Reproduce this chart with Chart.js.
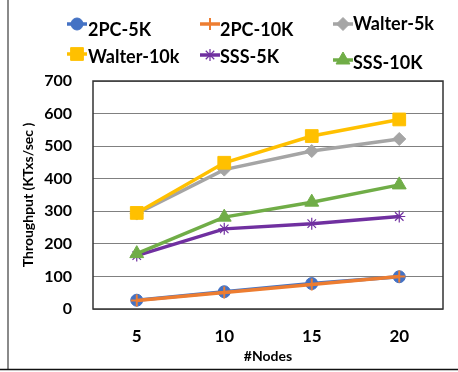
<!DOCTYPE html>
<html>
<head>
<meta charset="utf-8">
<script src="https://cdn.jsdelivr.net/npm/chart.js@4/dist/chart.umd.min.js"></script>
<style>
  html,body{margin:0;padding:0;background:#fff;}
  #wrap{width:458px;height:372px;}
</style>
</head>
<body>
<div id="wrap"><canvas id="c" width="458" height="372"></canvas></div>
<script>
// ---- data ----
const categories = ['5', '10', '15', '20'];
const yTickValues = [0, 100, 200, 300, 400, 500, 600, 700];
const seriesNames = ['2PC-5K', '2PC-10K', 'Walter-5k', 'Walter-10k', 'SSS-5K', 'SSS-10K'];
const pc5K = [27, 53, 78, 99];
const pc10K = [26, 51, 75, 100];
const walter5k = [293, 428, 485, 522];
const walter10k = [295, 449, 531, 582];
const sss5K = [164, 246, 262, 284];
const sss10K = [170, 282, 328, 381];
const xTitle = '#Nodes';
const yTitle = 'Throughput (KTxs/sec )';

// ---- styles ----
const FONT = 'Lato, "Open Sans", sans-serif';
const styles = [
  {color: '#4472C4', pointStyle: 'circle', radius: 6, lw: 3.5},
  {color: '#ED7D31', pointStyle: 'cross', radius: 6, lw: 3.5, pbw: 2},
  {color: '#A5A5A5', pointStyle: 'rectRot', radius: 6.5, lw: 3.5},
  {color: '#FFC000', pointStyle: 'rect', radius: 9, lw: 3.5},
  {color: '#7030A0', pointStyle: 'star', radius: 6, lw: 3.5, pbw: 1.2},
  {color: '#70AD47', pointStyle: 'triangle', radius: 8, lw: 3.5}
];
const values = [pc5K, pc10K, walter5k, walter10k, sss5K, sss10K];

// legend layout: [markerStartX, markerY, textX, textCenterY]
const legendLayout = [
  [67, 24, 88, 30],
  [200, 24, 220, 30],
  [333, 24, 353, 24],
  [67, 54, 88, 57],
  [200, 55, 220, 57],
  [333, 60, 353, 63]
];

const datasets = values.map((v, i) => ({
  label: seriesNames[i],
  data: v,
  borderColor: styles[i].color,
  backgroundColor: styles[i].color,
  borderWidth: styles[i].lw,
  pointStyle: styles[i].pointStyle,
  pointRadius: styles[i].radius,
  pointBorderWidth: styles[i].pbw || 1,
  pointBorderColor: styles[i].color,
  pointBackgroundColor: styles[i].color,
  tension: 0,
  fill: false,
  order: values.length - i
}));

function drawMarker(ctx, st, x, y) {
  const H = Chart.helpers;
  ctx.save();
  ctx.fillStyle = st.color;
  ctx.strokeStyle = st.color;
  ctx.lineWidth = st.pbw || 1;
  if (H && H.drawPoint) {
    H.drawPoint(ctx, {pointStyle: st.pointStyle, radius: st.radius, rotation: 0, borderWidth: st.pbw || 1}, x, y);
  }
  ctx.restore();
}

const framePlugin = {
  id: 'frame',
  beforeDraw(chart) {
    const ctx = chart.ctx;
    ctx.save();
    ctx.fillStyle = '#fff';
    ctx.fillRect(0, 0, chart.width, chart.height);
    ctx.strokeStyle = '#8a8a8a';
    ctx.lineWidth = 2;
    ctx.beginPath(); ctx.moveTo(8, 0); ctx.lineTo(8, 370); ctx.stroke();
    ctx.strokeStyle = '#111';
    ctx.lineWidth = 1.5;
    ctx.beginPath(); ctx.moveTo(0, 369.5); ctx.lineTo(chart.width, 369.5); ctx.stroke();
    ctx.restore();
  },
  beforeDatasetsDraw(chart) {
    const a = chart.chartArea, ctx = chart.ctx;
    ctx.save();
    ctx.strokeStyle = '#333';
    ctx.lineWidth = 1.5;
    ctx.strokeRect(a.left, a.top, a.right - a.left, a.bottom - a.top);
    ctx.restore();
  },
  afterDraw(chart) {
    const ctx = chart.ctx;
    chart.data.datasets.forEach((ds, i) => {
      const [mx, my, tx, ty] = legendLayout[i];
      const st = styles[i];
      ctx.save();
      ctx.strokeStyle = st.color;
      ctx.lineWidth = st.lw;
      ctx.beginPath(); ctx.moveTo(mx, my); ctx.lineTo(mx + 20, my); ctx.stroke();
      ctx.restore();
      drawMarker(ctx, st, mx + 10, my);
      ctx.save();
      ctx.fillStyle = '#000';
      ctx.font = 'bold 18px ' + FONT;
      ctx.textBaseline = 'middle';
      ctx.textAlign = 'left';
      ctx.fillText(ds.label, tx, ty);
      ctx.restore();
    });
  }
};

new Chart(document.getElementById('c'), {
  type: 'line',
  data: {labels: categories, datasets: datasets},
  plugins: [framePlugin],
  options: {
    responsive: false,
    animation: false,
    devicePixelRatio: 1,
    layout: {padding: {top: 81, right: 15, left: 0, bottom: 0}},
    plugins: {legend: {display: false}, tooltip: {enabled: false}},
    scales: {
      x: {
        type: 'category',
        offset: true,
        grid: {display: false, drawTicks: false},
        border: {display: false},
        ticks: {color: '#000', padding: 17, font: {family: FONT, size: 17, weight: 'bold'}},
        title: {display: true, text: xTitle, color: '#000', font: {family: FONT, size: 14, weight: 'bold'}, padding: {top: 0, bottom: 7}},
        afterFit(s) { s.height = 63; }
      },
      y: {
        min: yTickValues[0],
        max: yTickValues[yTickValues.length - 1],
        afterBuildTicks(s) { s.ticks = yTickValues.map(v => ({value: v})); },
        ticks: {color: '#000', padding: 21, font: {family: FONT, size: 16, weight: 'bold'}},
        grid: {color: '#808080', lineWidth: 1, drawTicks: false},
        border: {display: false},
        title: {display: true, text: yTitle, color: '#000', font: {family: FONT, size: 14, weight: 'bold'}, padding: {top: 20, bottom: 0}},
        afterFit(s) { s.width = 93; }
      }
    }
  }
});
</script>
</body>
</html>
